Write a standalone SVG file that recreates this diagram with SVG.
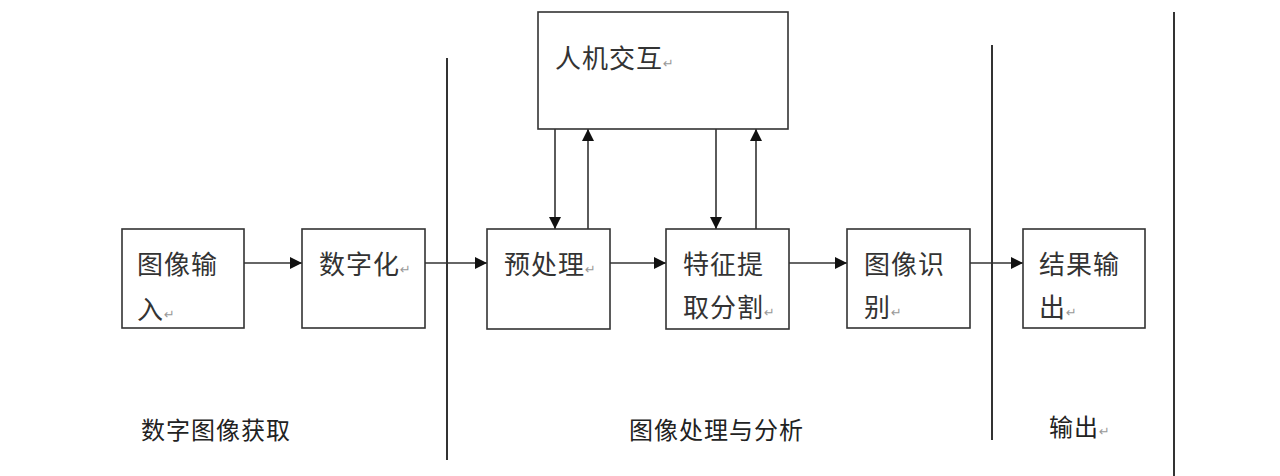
<svg xmlns="http://www.w3.org/2000/svg" width="1280" height="476" viewBox="0 0 1280 476">
<style>
.box{fill:#fff;stroke:#333;stroke-width:1.6}
.t{font-family:"Noto Sans CJK SC","Noto Sans",sans-serif;font-size:26px;letter-spacing:1px;fill:#333}
.lbl{font-family:"Noto Sans CJK SC","Noto Sans",sans-serif;font-size:24px;letter-spacing:1px;fill:#222}
.ret{font-family:"DejaVu Sans",sans-serif;font-size:13px;letter-spacing:0;fill:#999}
.c{stroke:#333;stroke-width:1.6;fill:none}
.sep{stroke:#333;stroke-width:2;fill:none}
</style>
<defs>
<marker id="ah" markerUnits="userSpaceOnUse" markerWidth="12" markerHeight="12" refX="12" refY="6" orient="auto">
<path d="M0,0 L12,6 L0,12 z" fill="#111"/>
</marker>
</defs>
<rect width="1280" height="476" fill="#fff"/>
<g id="separators">
<line class="sep" x1="447" y1="58" x2="447" y2="460"/>
<line class="sep" x1="992" y1="45" x2="992" y2="440"/>
<line class="sep" x1="1174" y1="12" x2="1174" y2="476"/>
</g>
<g id="connectors">
<line class="c" x1="244" y1="263" x2="302" y2="263" marker-end="url(#ah)"/>
<line class="c" x1="425" y1="263" x2="487" y2="263" marker-end="url(#ah)"/>
<line class="c" x1="610" y1="263" x2="666" y2="263" marker-end="url(#ah)"/>
<line class="c" x1="789" y1="263" x2="847" y2="263" marker-end="url(#ah)"/>
<line class="c" x1="970" y1="263" x2="1023" y2="263" marker-end="url(#ah)"/>
<line class="c" x1="555" y1="129" x2="555" y2="229" marker-end="url(#ah)"/>
<line class="c" x1="588" y1="229" x2="588" y2="129" marker-end="url(#ah)"/>
<line class="c" x1="716" y1="129" x2="716" y2="229" marker-end="url(#ah)"/>
<line class="c" x1="756" y1="229" x2="756" y2="129" marker-end="url(#ah)"/>
</g>
<g id="n-hci">
<rect class="box" x="538" y="12" width="250" height="117"/>
<text class="t" x="555" y="68">人机交互<tspan class="ret">↵</tspan></text>
</g>
<g id="n-input">
<rect class="box" x="122" y="229" width="122" height="99"/>
<text class="t" x="137" y="274">图像输</text>
<text class="t" x="137" y="319">入<tspan class="ret">↵</tspan></text>
</g>
<g id="n-digit">
<rect class="box" x="302" y="229" width="123" height="99"/>
<text class="t" x="319" y="274">数字化<tspan class="ret">↵</tspan></text>
</g>
<g id="n-pre">
<rect class="box" x="487" y="229" width="123" height="100"/>
<text class="t" x="504" y="274">预处理<tspan class="ret">↵</tspan></text>
</g>
<g id="n-feat">
<rect class="box" x="666" y="229" width="123" height="100"/>
<text class="t" x="683" y="274">特征提</text>
<text class="t" x="683" y="317">取分割<tspan class="ret">↵</tspan></text>
</g>
<g id="n-recog">
<rect class="box" x="847" y="229" width="123" height="99"/>
<text class="t" x="864" y="274">图像识</text>
<text class="t" x="864" y="317">别<tspan class="ret">↵</tspan></text>
</g>
<g id="n-out">
<rect class="box" x="1023" y="229" width="122" height="99"/>
<text class="t" x="1039" y="274">结果输</text>
<text class="t" x="1039" y="317">出<tspan class="ret">↵</tspan></text>
</g>
<g id="labels">
<text class="lbl" x="141" y="439">数字图像获取</text>
<text class="lbl" x="629" y="439">图像处理与分析</text>
<text class="lbl" x="1049" y="436">输出<tspan class="ret">↵</tspan></text>
</g>
</svg>
